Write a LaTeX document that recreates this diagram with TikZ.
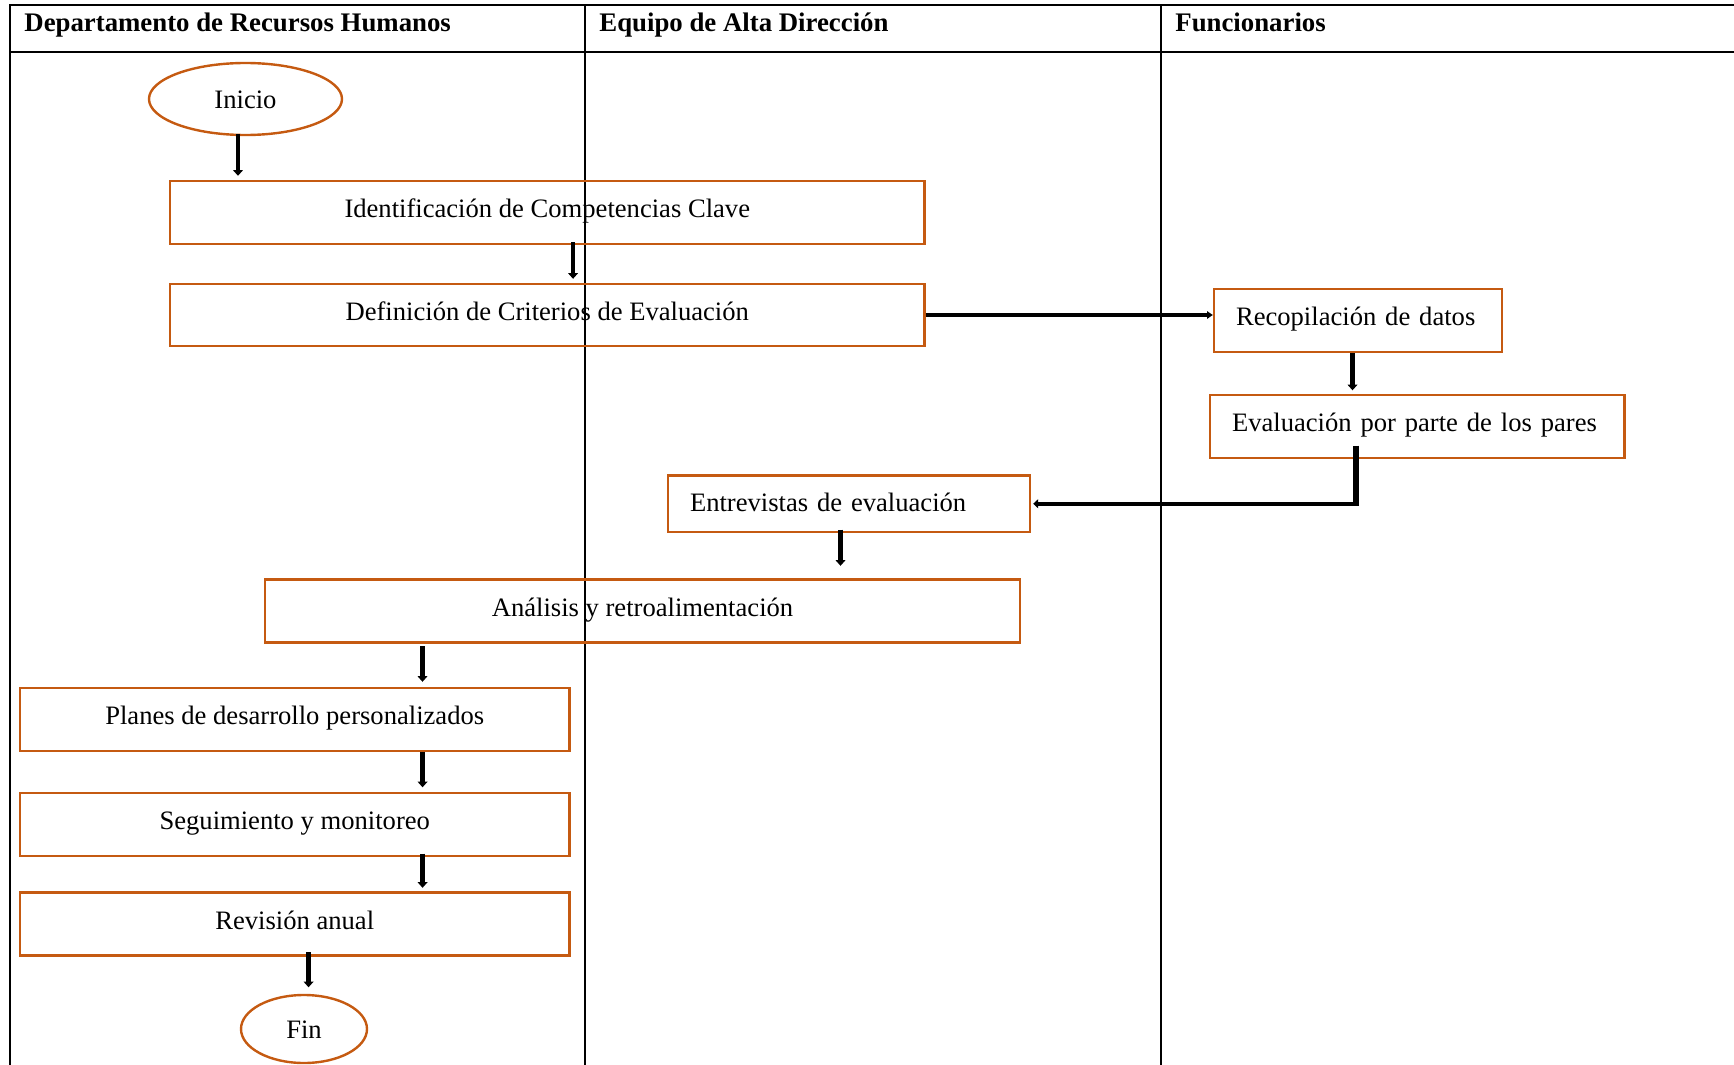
\documentclass[tikz,border=0pt]{standalone}
\usepackage{fontspec}
\setmainfont{Liberation Serif}
\usetikzlibrary{arrows.meta,calc,shapes.geometric}
\definecolor{boxorange}{RGB}{197,90,17}
\begin{document}
\begin{tikzpicture}[x=0.5pt,y=-0.5pt,
  lane/.style={line width=1pt,black},
  headtxt/.style={anchor=base west,inner sep=0pt,font=\fontsize{13.4}{16}\selectfont\bfseries},
  basebox/.style={draw=boxorange,line width=1.2pt,inner sep=0pt,font=\fontsize{13.3}{16}\selectfont,text height=0.7em,text depth=0.2em},
  flowbox/.style={basebox,rectangle,align=center},
  leftbox/.style={basebox,rectangle,inner xsep=11pt,align=left},
  term/.style={basebox,ellipse,text height=1.0em,text depth=0.05em},
  arr/.style={line width=2.4pt,-{Triangle[length=2.8pt,width=4.8pt]}},
  harr/.style={line width=1.8pt,-{Triangle[length=2.8pt,width=3.6pt]}}
]
\useasboundingbox (0,0) rectangle (1734,1065);
% lanes
\draw[lane] (10,1065) -- (10,5.5) -- (1734,5.5);
\draw[lane] (10,52) -- (1734,52);
\draw[lane] (585,5.5) -- (585,1065);
\draw[lane] (1161,5.5) -- (1161,1065);
\node[headtxt] (h1) at (24,32) {Departamento de Recursos Humanos};
\node[headtxt] (h2) at (599,32) {Equipo de Alta Dirección};
\node[headtxt] (h3) at (1175,32) {Funcionarios};
% nodes
\node[term,minimum width=96.5pt,minimum height=36pt] (inicio) at (245.5,99) {Inicio};
\node[flowbox,minimum width=377.25pt,minimum height=31.5pt] (ident) at (547.25,212.5) {Identificación de Competencias Clave};
\node[flowbox,minimum width=377.25pt,minimum height=31pt] (defin) at (547.25,315) {Definición de Criterios de Evaluación};
\node[leftbox,text width=122pt,minimum height=31.5pt] (recop) at (1358,320.5) {Recopilación de datos};
\node[leftbox,text width=185.25pt,minimum height=31.5pt] (evalp) at (1417.25,426.5) {Evaluación por parte de los pares};
\node[leftbox,text width=159pt,minimum height=28.25pt,text height=0.82em,text depth=0.08em] (entrev) at (849,503.75) {Entrevistas de evaluación};
\node[flowbox,minimum width=377.5pt,minimum height=31.5pt] (anal) at (642.5,611) {Análisis y retroalimentación};
\node[flowbox,minimum width=274.75pt,minimum height=31.5pt] (planes) at (294.75,719.5) {Planes de desarrollo personalizados};
\node[flowbox,minimum width=274.75pt,minimum height=31.5pt] (segui) at (294.75,824.5) {Seguimiento y monitoreo};
\node[flowbox,minimum width=274.75pt,minimum height=31.5pt] (revis) at (294.75,924) {Revisión anual};
\node[term,minimum width=63pt,minimum height=34pt] (fin) at (304,1029) {Fin};
% connectors
\coordinate (s1) at ([xshift=-3.75pt,yshift=1pt]inicio.south);
\draw[arr] (s1) -- ([yshift=2pt]s1 |- ident.north);
\coordinate (s2) at ([xshift=12.9pt,yshift=1.5pt]ident.south);
\draw[arr] (s2) -- ([yshift=2pt]s2 |- defin.north);
\draw[harr] (defin.east) -- (defin.east -| recop.west);
\coordinate (s3) at ([xshift=-2.75pt]recop.south);
\draw[arr] (s3) -- ([yshift=1.75pt]s3 |- evalp.north);
\coordinate (s4) at ([xshift=-30.6pt,yshift=6.75pt]evalp.south);
\coordinate (c4) at (s4 |- entrev.east);
\draw[line width=3pt] (s4) -- ([yshift=-1.1pt]c4);
\draw[line width=2.2pt,-{Triangle[length=2.5pt,width=4.5pt]}] ([xshift=1.5pt]c4) -- ([xshift=1pt]entrev.east);
\coordinate (s5) at ([xshift=-4.25pt,yshift=1.75pt]entrev.south);
\draw[arr] (s5) -- ([yshift=6.25pt]s5 |- anal.north);
\coordinate (s6) at ([xshift=-110pt,yshift=-1.25pt]anal.south);
\draw[arr] (s6) -- ([yshift=2.5pt]s6 |- planes.north);
\coordinate (s7) at ([xshift=63.9pt]planes.south);
\draw[arr] (s7) -- ([yshift=2.25pt]s7 |- segui.north);
\coordinate (s8) at ([xshift=63.9pt,yshift=1.75pt]segui.south);
\draw[arr] (s8) -- ([yshift=1.75pt]s8 |- revis.north);
\coordinate (s9) at ([xshift=6.9pt,yshift=2.25pt]revis.south);
\draw[arr] (s9) -- ([yshift=3.25pt]s9 |- fin.north);
\end{tikzpicture}
\end{document}
